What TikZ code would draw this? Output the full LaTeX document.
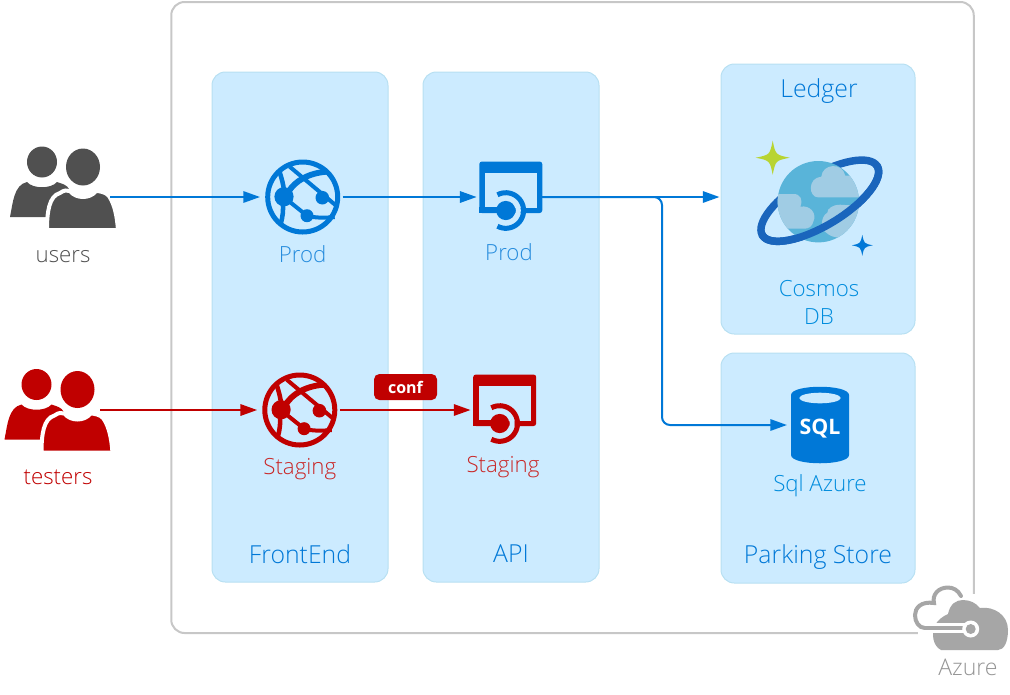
\documentclass[tikz,border=0pt]{standalone}
\usepackage{fontspec}
\setmainfont{Open Sans Light}
\newfontfamily\boldlabel{Open Sans}[BoldFont=* Bold]
\usetikzlibrary{arrows.meta}
\definecolor{panelfill}{HTML}{CCEBFF}
\definecolor{paneledge}{HTML}{B8E0F2}
\definecolor{azureblue}{HTML}{0078D7}
\definecolor{stagingred}{HTML}{C00000}
\definecolor{usergrey}{HTML}{505050}
\definecolor{cloudgrey}{HTML}{A6A6A6}
\definecolor{planetblue}{HTML}{59B4D9}
\definecolor{planetcloud}{HTML}{A0CCE4}
\definecolor{ringblue}{HTML}{1A65BC}
\definecolor{sparkgreen}{HTML}{B8D432}
\tikzset{
  panel/.style={fill=panelfill, draw=paneledge, line width=0.75pt, rounded corners=10pt, inner sep=0pt},
  anchorbox/.style={inner sep=0pt, outer sep=0pt},
  caption/.style={font=\fontsize{16.7}{18}\selectfont, text=azureblue!85!cyan},
  paneltitle/.style={font=\fontsize{18.6}{20}\selectfont, text=azureblue},
  flow/.style={line width=1.5pt, shorten >=2pt, -{Triangle[length=12.5pt,width=8.5pt]}},
  pics/people/.style={code={
    \fill[#1] (-21,-35) ellipse (15 and 15.5);
    \fill[#1] (-53,20) .. controls (-50,5) and (-49,-12) .. (-36,-15) .. controls (-30,-8) and (-12,-8) .. (-6,-15) .. controls (0,-13) and (4,-12) .. (6,-8) -- (6,20) -- cycle;
    \draw[white, line width=3pt, fill=#1] (-16,33) .. controls (-16,15) and (-14,-1) .. (-3,-4) .. controls (1,-7) and (4,-7) .. (7,-6) .. controls (13,2) and (27,2) .. (33,-6) .. controls (36,-6) and (43,-5) .. (46,-1) .. controls (52,8) and (54,20) .. (55,33) -- cycle;
    \fill[#1] (20,-30) ellipse (17 and 18.5);
  }},
  pics/webapp/.style={code={
    \draw[#1, line width=3.75pt] (0,0) circle (35);
    \draw[#1, line width=3pt] (-13,-30.3) -- (32.7,8);
    \draw[#1, line width=4.4pt] (-14.3,-5) .. controls (-8,-16) and (6,-24) .. (24,-25.3);
    \draw[#1, line width=3pt] (-14,4) -- (4.3,18.7) .. controls (12,21) and (22,21) .. (32,20);
    \draw[#1, line width=3.4pt] (-18.7,-5) .. controls (-19,-12) and (-21,-18) .. (-23,-25);
    \draw[#1, line width=3.4pt] (-20,5) .. controls (-19,12) and (-20,20) .. (-22,27);
    \fill[#1] (-18.7,-0.3) circle (9.6);
    \fill[#1] (19.6,0.7) circle (6.8);
    \fill[#1] (4.3,18.7) circle (6.5);
  }},
  pics/apiapp/.style={code={
    \fill[#1, rounded corners=2pt] (-31.5,-35.5) rectangle (31.5,16);
    \fill[panelfill] (-26,-24) rectangle (26,10.5);
    \draw[panelfill, line width=3.75pt] plot[domain=-90:90, samples=25] ({-5+12.5*cos(\x)},{13.5+12.5*sin(\x)});
    \draw[#1, line width=3.75pt] plot[domain=-118:118, samples=31] ({-5+17.8*cos(\x)},{13.5+17.8*sin(\x)});
    \fill[#1] (-31.5,10) rectangle (-5,16);
    \fill[#1] (-5,13.5) circle (9.6);
  }},
  pics/sparkle/.style 2 args={code={
    \fill[#1] (0,-#2) .. controls (0.17*#2,-0.17*#2) .. (#2,0) .. controls (0.17*#2,0.17*#2) .. (0,#2) .. controls (-0.17*#2,0.17*#2) .. (-#2,0) .. controls (-0.17*#2,-0.17*#2) .. cycle;
  }},
}
\begin{document}
\begin{tikzpicture}[x=0.75pt, y=-0.75pt]
  \useasboundingbox (0,0) rectangle (1010,694);
  \node[draw=black!22, line width=1.5pt, rounded corners=10pt, minimum width=802.5*0.75pt, minimum height=631*0.75pt, anchorbox] (azurebox) at (572.5,317.5) {};
  % panels
  \foreach \nm/\xa/\ya/\pw/\ph in {frontend/300/327/176/510, api/511/327/176/510, ledger/818/199/194/270, parking/818/468/194/230} {
    \node[panel, minimum width=\pw*0.75pt, minimum height=\ph*0.75pt] (\nm) at (\xa,\ya) {};
  }
  \node[paneltitle] (frontendtitle) at (300,554) {FrontEnd};
  \node[paneltitle] (apititle) at (511,554) {API};
  \node[paneltitle] (ledgertitle) at (819,91) {Ledger};
  \node[paneltitle] (parkingtitle) at (818,557) {Parking Store};

  % people
  \node[anchorbox, minimum width=94*0.75pt, minimum height=60*0.75pt] (users) at (63,197) {};
  \pic at (users) {people=usergrey};
  \node[caption, text=usergrey] (userstext) at (63,256.5) {users};
  \node[anchorbox, minimum width=84*0.75pt, minimum height=60*0.75pt] (testers) at (58,410) {};
  \pic at (57.5,419.5) {people=stagingred};
  \node[caption, text=stagingred] (testerstext) at (58,477) {testers};

  % app icons
  \foreach \nm/\xa/\ya/\col/\txt/\yb in {frontprod/302.7/197/azureblue/Prod/254, frontstaging/299.8/410/stagingred/Staging/469.5} {
    \node[anchorbox, minimum size=80*0.75pt] (\nm) at (\xa,\ya) {};
    \pic at (\nm) {webapp=\col};
    \node[caption, text=\col!85!white] (\nm text) at (\xa,\yb) {\txt};
  }
  \foreach \nm/\xa/\ya/\col/\txt/\xb/\yb in {apiprod/510.8/197/azureblue/Prod/509/252, apistaging/504.7/410/stagingred/Staging/503/467} {
    \node[anchorbox, minimum width=63*0.75pt, minimum height=40*0.75pt] (\nm) at (\xa,\ya) {};
    \pic at (\nm) {apiapp=\col};
    \node[caption, text=\col!85!white] (\nm text) at (\xb,\yb) {\txt};
  }

  % cosmos
  \node[anchorbox, minimum size=82*0.75pt] (cosmos) at (818.3,201.7) {};
  \begin{scope}[shift={(cosmos.center)}]
    \begin{scope}[shift={(1.5,-1)}, rotate=31]
      \draw[ringblue, line width=5.6pt] (0,0) ellipse (67 and 25);
    \end{scope}
    \fill[planetblue] (0,0) circle (40.7);
    \begin{scope}
      \clip (0,0) circle (40.7);
      \fill[planetcloud] (0,-4.3) .. controls (-10,-4.3) and (-11,-24) .. (3,-25) .. controls (4,-38) and (24,-40) .. (27,-26) -- (44,-26) -- (44,-4.3) -- cycle;
      \fill[planetcloud] (-44,-7.7) -- (-25,-7.7) .. controls (-18,-8) and (-15,-2) .. (-18,5) .. controls (-8,3) and (-1,12) .. (-5,20) .. controls (-6,25) and (-10,27) .. (-14,27) -- (-44,27) -- cycle;
      \fill[planetcloud] (44,4.3) -- (22,3) .. controls (14,3) and (9,7) .. (9,11) .. controls (2,15) and (2,28) .. (8,31) .. controls (10,33) and (14,36) .. (24,36) -- (44,36) -- cycle;
    \end{scope}
    \begin{scope}[shift={(1.5,-1)}, rotate=31]
      \draw[ringblue, line width=5.6pt] plot[domain=-3:183, samples=40] ({67*cos(\x)},{25*sin(\x)});
    \end{scope}
  \end{scope}
  \pic at (772.7,157.7) {sparkle={sparkgreen}{17}};
  \pic at (862.3,245.3) {sparkle={azureblue}{10.5}};
  \node[caption] (cosmostext) at (819,288.5) {Cosmos};
  \node[caption] (dbtext) at (819,316.5) {DB};

  % sql
  \node[anchorbox, minimum width=58*0.75pt, minimum height=76*0.75pt] (sqldb) at (820,425) {};
  \fill[azureblue] (791,395) -- (791,455) .. controls (791,466) and (849,466) .. (849,455) -- (849,395) .. controls (849,384) and (791,384) .. cycle;
  \fill[panelfill] (820,398) ellipse (20.7 and 5.3);
  \node[text=white, font=\boldlabel\fontsize{16}{16}\selectfont\bfseries, anchorbox] (sqltext) at (820,428.5) {SQL};
  \node[caption] (sqlazure) at (820,485.5) {Sql Azure};

  % connectors
  \coordinate (branch) at (662,197);
  \draw[flow, azureblue] (users.east) -- (frontprod.west);
  \draw[flow, azureblue] (frontprod.east) -- (apiprod.west);
  \draw[flow, azureblue, shorten >=0.75pt] (apiprod.east) -- (apiprod.east -| ledger.west);
  \draw[flow, azureblue, rounded corners=6pt, shorten >=3pt] (apiprod.east) -- (branch) -- (branch |- sqldb.west) -- (sqldb.west);
  \draw[flow, stagingred] (testers.east) -- (frontstaging.west);
  \draw[flow, stagingred] (frontstaging.east) -- (apistaging.west);
  \node[fill=stagingred, text=white, rounded corners=4pt, minimum width=63*0.75pt, minimum height=26*0.75pt, anchorbox, font=\boldlabel\fontsize{12}{12}\selectfont\bfseries] (conf) at (405.5,387) {conf};

  % azure
  \fill[white] (918,594) rectangle (1010,660);
  \draw[cloudgrey, line width=3pt, line cap=round] (961,596) .. controls (958,590) and (953,587.5) .. (948,587.5) .. controls (938,587.5) and (932,595) .. (934,603) .. controls (921,601) and (915,608) .. (915,615) .. controls (915,622) and (919,628) .. (925,628);
  \fill[cloudgrey] (941,650) .. controls (933,646) and (931,634) .. (935,625) .. controls (938,620) and (943,616) .. (948,614) .. controls (950,604) and (956,600) .. (963,600) .. controls (970,600) and (976,603) .. (980,608) .. controls (994,606) and (1008,615) .. (1008,630) .. controls (1008,642) and (1004,650) .. (998,650) -- cycle;
  \draw[white, line width=7.5pt] (925,628) -- (968,628);
  \draw[cloudgrey, line width=3pt] (925,628) -- (968,628);
  \fill[white] (970.7,629) circle (8.5);
  \fill[cloudgrey] (970.7,629) circle (5);
  \node[caption, text=cloudgrey!90!black, font=\fontsize{17.3}{18}\selectfont] (azuretext) at (968,667) {Azure};
\end{tikzpicture}
\end{document}
